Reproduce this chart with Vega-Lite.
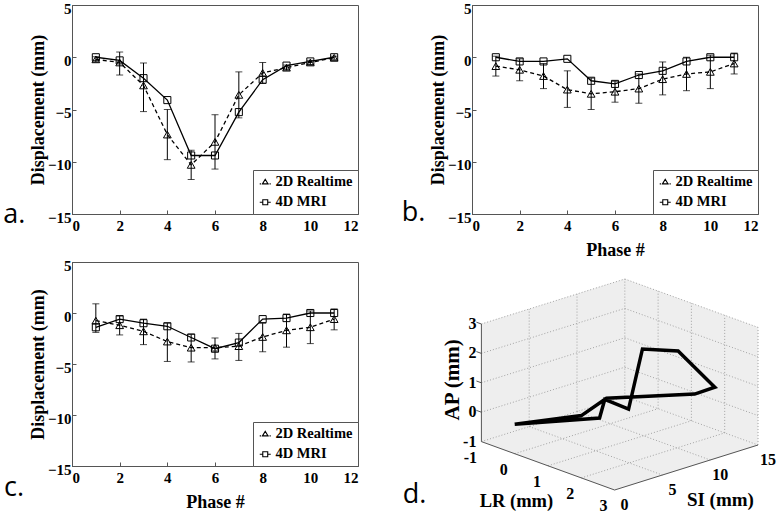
{
  "$schema": "https://vega.github.io/schema/vega-lite/v6.json",
  "autosize": "none",
  "padding": {"left": 72, "top": 5, "right": 705, "bottom": 510},
  "background": "white",
  "datasets": {
    "disp": [
      {"p":"a","phase":1,"s":"2D Realtime","v":-0.2,"lo":-0.45,"hi":0.05},
      {"p":"a","phase":2,"s":"2D Realtime","v":-0.5,"lo":-1.7,"hi":0.5},
      {"p":"a","phase":3,"s":"2D Realtime","v":-2.7,"lo":-5.2,"hi":-0.55},
      {"p":"a","phase":4,"s":"2D Realtime","v":-7.4,"lo":-9.8,"hi":-5.0},
      {"p":"a","phase":5,"s":"2D Realtime","v":-10.3,"lo":-11.7,"hi":-8.9},
      {"p":"a","phase":6,"s":"2D Realtime","v":-8.1,"lo":-10.7,"hi":-5.5},
      {"p":"a","phase":7,"s":"2D Realtime","v":-3.6,"lo":-5.8,"hi":-1.4},
      {"p":"a","phase":8,"s":"2D Realtime","v":-1.5,"lo":-2.5,"hi":-0.5},
      {"p":"a","phase":9,"s":"2D Realtime","v":-1.0,"lo":-1.25,"hi":-0.75},
      {"p":"a","phase":10,"s":"2D Realtime","v":-0.5,"lo":-0.7,"hi":-0.3},
      {"p":"a","phase":11,"s":"2D Realtime","v":-0.05,"lo":-0.2,"hi":0.1},
      {"p":"a","phase":1,"s":"4D MRI","v":0},
      {"p":"a","phase":2,"s":"4D MRI","v":-0.3},
      {"p":"a","phase":3,"s":"4D MRI","v":-2.0},
      {"p":"a","phase":4,"s":"4D MRI","v":-4.1},
      {"p":"a","phase":5,"s":"4D MRI","v":-9.4},
      {"p":"a","phase":6,"s":"4D MRI","v":-9.4},
      {"p":"a","phase":7,"s":"4D MRI","v":-5.25},
      {"p":"a","phase":8,"s":"4D MRI","v":-2.15},
      {"p":"a","phase":9,"s":"4D MRI","v":-0.8},
      {"p":"a","phase":10,"s":"4D MRI","v":-0.4},
      {"p":"a","phase":11,"s":"4D MRI","v":0},
      {"p":"b","phase":1,"s":"2D Realtime","v":-0.85,"lo":-1.8,"hi":0.1},
      {"p":"b","phase":2,"s":"2D Realtime","v":-1.2,"lo":-2.25,"hi":-0.15},
      {"p":"b","phase":3,"s":"2D Realtime","v":-1.8,"lo":-3.0,"hi":-0.6},
      {"p":"b","phase":4,"s":"2D Realtime","v":-3.1,"lo":-4.8,"hi":-1.3},
      {"p":"b","phase":5,"s":"2D Realtime","v":-3.5,"lo":-5.0,"hi":-2.0},
      {"p":"b","phase":6,"s":"2D Realtime","v":-3.3,"lo":-4.3,"hi":-2.3},
      {"p":"b","phase":7,"s":"2D Realtime","v":-3.0,"lo":-4.4,"hi":-1.6},
      {"p":"b","phase":8,"s":"2D Realtime","v":-2.1,"lo":-3.6,"hi":-0.45},
      {"p":"b","phase":9,"s":"2D Realtime","v":-1.6,"lo":-3.2,"hi":0.0},
      {"p":"b","phase":10,"s":"2D Realtime","v":-1.4,"lo":-3.0,"hi":0.2},
      {"p":"b","phase":11,"s":"2D Realtime","v":-0.6,"lo":-1.6,"hi":0.4},
      {"p":"b","phase":1,"s":"4D MRI","v":0},
      {"p":"b","phase":2,"s":"4D MRI","v":-0.4},
      {"p":"b","phase":3,"s":"4D MRI","v":-0.4},
      {"p":"b","phase":4,"s":"4D MRI","v":-0.15},
      {"p":"b","phase":5,"s":"4D MRI","v":-2.25},
      {"p":"b","phase":6,"s":"4D MRI","v":-2.55},
      {"p":"b","phase":7,"s":"4D MRI","v":-1.7},
      {"p":"b","phase":8,"s":"4D MRI","v":-1.3},
      {"p":"b","phase":9,"s":"4D MRI","v":-0.4},
      {"p":"b","phase":10,"s":"4D MRI","v":0},
      {"p":"b","phase":11,"s":"4D MRI","v":0},
      {"p":"c","phase":1,"s":"2D Realtime","v":-0.75,"lo":-1.9,"hi":0.9},
      {"p":"c","phase":2,"s":"2D Realtime","v":-1.2,"lo":-2.15,"hi":-0.3},
      {"p":"c","phase":3,"s":"2D Realtime","v":-1.8,"lo":-3.1,"hi":-0.6},
      {"p":"c","phase":4,"s":"2D Realtime","v":-2.8,"lo":-4.75,"hi":-1.0},
      {"p":"c","phase":5,"s":"2D Realtime","v":-3.4,"lo":-4.8,"hi":-2.1},
      {"p":"c","phase":6,"s":"2D Realtime","v":-3.4,"lo":-4.5,"hi":-2.45},
      {"p":"c","phase":7,"s":"2D Realtime","v":-3.25,"lo":-4.65,"hi":-2.0},
      {"p":"c","phase":8,"s":"2D Realtime","v":-2.35,"lo":-3.8,"hi":-1.0},
      {"p":"c","phase":9,"s":"2D Realtime","v":-1.7,"lo":-3.35,"hi":-0.1},
      {"p":"c","phase":10,"s":"2D Realtime","v":-1.4,"lo":-3.0,"hi":0.2},
      {"p":"c","phase":11,"s":"2D Realtime","v":-0.6,"lo":-1.65,"hi":0.4},
      {"p":"c","phase":1,"s":"4D MRI","v":-1.4},
      {"p":"c","phase":2,"s":"4D MRI","v":-0.6},
      {"p":"c","phase":3,"s":"4D MRI","v":-1.0},
      {"p":"c","phase":4,"s":"4D MRI","v":-1.3},
      {"p":"c","phase":5,"s":"4D MRI","v":-2.4},
      {"p":"c","phase":6,"s":"4D MRI","v":-3.5},
      {"p":"c","phase":7,"s":"4D MRI","v":-2.9},
      {"p":"c","phase":8,"s":"4D MRI","v":-0.6},
      {"p":"c","phase":9,"s":"4D MRI","v":-0.5},
      {"p":"c","phase":10,"s":"4D MRI","v":0},
      {"p":"c","phase":11,"s":"4D MRI","v":0}
    ],
    "walls": [
      {"w":"lr","k":0,"SI":0,"LR":-1,"AP":-1},
      {"w":"lr","k":1,"SI":0,"LR":-1,"AP":3},
      {"w":"lr","k":2,"SI":15,"LR":-1,"AP":3},
      {"w":"lr","k":3,"SI":15,"LR":-1,"AP":-1},
      {"w":"si","k":0,"SI":15,"LR":-1,"AP":-1},
      {"w":"si","k":1,"SI":15,"LR":-1,"AP":3},
      {"w":"si","k":2,"SI":15,"LR":3,"AP":3},
      {"w":"si","k":3,"SI":15,"LR":3,"AP":-1},
      {"w":"fl","k":0,"SI":0,"LR":-1,"AP":-1},
      {"w":"fl","k":1,"SI":15,"LR":-1,"AP":-1},
      {"w":"fl","k":2,"SI":15,"LR":3,"AP":-1},
      {"w":"fl","k":3,"SI":0,"LR":3,"AP":-1}
    ],
    "grid3": [
      {"SI":5,"LR":-1,"AP":-1,"SI2":5,"LR2":-1,"AP2":3},
      {"SI":10,"LR":-1,"AP":-1,"SI2":10,"LR2":-1,"AP2":3},
      {"SI":15,"LR":-1,"AP":-1,"SI2":15,"LR2":-1,"AP2":3},
      {"SI":0,"LR":-1,"AP":-1,"SI2":15,"LR2":-1,"AP2":-1},
      {"SI":0,"LR":-1,"AP":0,"SI2":15,"LR2":-1,"AP2":0},
      {"SI":0,"LR":-1,"AP":1,"SI2":15,"LR2":-1,"AP2":1},
      {"SI":0,"LR":-1,"AP":2,"SI2":15,"LR2":-1,"AP2":2},
      {"SI":0,"LR":-1,"AP":3,"SI2":15,"LR2":-1,"AP2":3},
      {"SI":15,"LR":0,"AP":-1,"SI2":15,"LR2":0,"AP2":3},
      {"SI":15,"LR":1,"AP":-1,"SI2":15,"LR2":1,"AP2":3},
      {"SI":15,"LR":2,"AP":-1,"SI2":15,"LR2":2,"AP2":3},
      {"SI":15,"LR":3,"AP":-1,"SI2":15,"LR2":3,"AP2":3},
      {"SI":15,"LR":-1,"AP":-1,"SI2":15,"LR2":3,"AP2":-1},
      {"SI":15,"LR":-1,"AP":0,"SI2":15,"LR2":3,"AP2":0},
      {"SI":15,"LR":-1,"AP":1,"SI2":15,"LR2":3,"AP2":1},
      {"SI":15,"LR":-1,"AP":2,"SI2":15,"LR2":3,"AP2":2},
      {"SI":15,"LR":-1,"AP":3,"SI2":15,"LR2":3,"AP2":3},
      {"SI":5,"LR":-1,"AP":-1,"SI2":5,"LR2":3,"AP2":-1},
      {"SI":10,"LR":-1,"AP":-1,"SI2":10,"LR2":3,"AP2":-1},
      {"SI":0,"LR":0,"AP":-1,"SI2":15,"LR2":0,"AP2":-1},
      {"SI":0,"LR":1,"AP":-1,"SI2":15,"LR2":1,"AP2":-1},
      {"SI":0,"LR":2,"AP":-1,"SI2":15,"LR2":2,"AP2":-1}
    ],
    "edges3": [
      {"SI":0,"LR":-1,"AP":-1,"SI2":0,"LR2":-1,"AP2":3},
      {"SI":0,"LR":-1,"AP":-1,"SI2":0,"LR2":3,"AP2":-1},
      {"SI":0,"LR":3,"AP":-1,"SI2":15,"LR2":3,"AP2":-1},
      {"SI":0,"LR":-1,"AP":0,"SI2":0,"LR2":-1.15,"AP2":0},
      {"SI":0,"LR":-1,"AP":1,"SI2":0,"LR2":-1.15,"AP2":1},
      {"SI":0,"LR":-1,"AP":2,"SI2":0,"LR2":-1.15,"AP2":2},
      {"SI":0,"LR":-1,"AP":3,"SI2":0,"LR2":-1.15,"AP2":3}
    ],
    "traj": [
      {"phase":1,"SI":0,"LR":0,"AP":0},
      {"phase":2,"SI":4,"LR":1.4,"AP":0.38},
      {"phase":3,"SI":5,"LR":1.27,"AP":0.86},
      {"phase":4,"SI":7,"LR":1.41,"AP":0.38},
      {"phase":5,"SI":8,"LR":1.54,"AP":2.38},
      {"phase":6,"SI":11,"LR":1.75,"AP":2.09},
      {"phase":7,"SI":14,"LR":1.99,"AP":0.65},
      {"phase":8,"SI":12,"LR":1.96,"AP":0.61},
      {"phase":9,"SI":5,"LR":1.32,"AP":0.92},
      {"phase":10,"SI":3,"LR":1.14,"AP":0.46},
      {"phase":11,"SI":0,"LR":0,"AP":0}
    ],
    "lab3": [
      {"k":"ap","t":"-1","SI":0,"LR":-1,"AP":-1},
      {"k":"ap","t":"0","SI":0,"LR":-1,"AP":0},
      {"k":"ap","t":"1","SI":0,"LR":-1,"AP":1},
      {"k":"ap","t":"2","SI":0,"LR":-1,"AP":2},
      {"k":"ap","t":"3","SI":0,"LR":-1,"AP":3},
      {"k":"lr","t":"-1","SI":0,"LR":-1,"AP":-1},
      {"k":"lr","t":"0","SI":0,"LR":0,"AP":-1},
      {"k":"lr","t":"1","SI":0,"LR":1,"AP":-1},
      {"k":"lr","t":"2","SI":0,"LR":2,"AP":-1},
      {"k":"lr","t":"3","SI":0,"LR":3,"AP":-1},
      {"k":"si","t":"0","SI":0,"LR":3,"AP":-1},
      {"k":"si","t":"5","SI":5,"LR":3,"AP":-1},
      {"k":"si","t":"10","SI":10,"LR":3,"AP":-1},
      {"k":"si","t":"15","SI":15,"LR":3,"AP":-1}
    ]
  },
  "columns": 2,
  "spacing": {"row": 48, "column": 114},
  "bounds": "flush",
  "align": "each",
  "resolve": {
    "scale": {"shape": "independent", "x": "independent", "y": "independent"},
    "legend": {"shape": "independent"}
  },
  "concat": [
    {
      "width": 286, "height": 209,
      "layer": [
        {"data": {"name": "disp"},
         "transform": [{"filter": "datum.p === 'a' && datum.s === '2D Realtime'"}],
         "mark": {"type": "errorbar", "ticks": true, "size": 7, "thickness": 1, "color": "black"},
         "encoding": {
           "x": {"field": "phase", "type": "quantitative", "scale": {"domain": [0, 12], "nice": false, "zero": false}},
           "y": {"field": "lo", "type": "quantitative", "scale": {"domain": [-15, 5], "nice": false}, "title": "Displacement (mm)"},
           "y2": {"field": "hi"}}},
        {"data": {"name": "disp"},
         "transform": [{"filter": "datum.p === 'a' && datum.s === '2D Realtime'"}],
         "mark": {"type": "line", "color": "black", "strokeWidth": 1.3, "strokeDash": [4, 3]},
         "encoding": {
           "x": {"field": "phase", "type": "quantitative", "scale": {"domain": [0, 12], "nice": false, "zero": false}, "axis": {"values": [0, 2, 4, 6, 8, 10, 12], "title": null}},
           "y": {"field": "v", "type": "quantitative", "scale": {"domain": [-15, 5], "nice": false}, "axis": {"values": [-15, -10, -5, 0, 5], "title": "Displacement (mm)"}}}},
        {"data": {"name": "disp"},
         "transform": [{"filter": "datum.p === 'a' && datum.s === '4D MRI'"}],
         "mark": {"type": "line", "color": "black", "strokeWidth": 1.3},
         "encoding": {
           "x": {"field": "phase", "type": "quantitative", "scale": {"domain": [0, 12], "nice": false, "zero": false}},
           "y": {"field": "v", "type": "quantitative", "scale": {"domain": [-15, 5], "nice": false}}}},
        {"data": {"name": "disp"},
         "transform": [{"filter": "datum.p === 'a' && datum.s === '2D Realtime'"}],
         "mark": {"type": "point", "shape": "triangle-up", "filled": false, "color": "black", "size": 60, "strokeWidth": 1, "opacity": 1},
         "encoding": {
           "x": {"field": "phase", "type": "quantitative", "scale": {"domain": [0, 12], "nice": false, "zero": false}},
           "y": {"field": "v", "type": "quantitative", "scale": {"domain": [-15, 5], "nice": false}}}},
        {"data": {"name": "disp"},
         "transform": [{"filter": "datum.p === 'a' && datum.s === '4D MRI'"}],
         "mark": {"type": "point", "shape": "square", "filled": false, "color": "black", "size": 50, "strokeWidth": 1, "opacity": 1},
         "encoding": {
           "x": {"field": "phase", "type": "quantitative", "scale": {"domain": [0, 12], "nice": false, "zero": false}},
           "y": {"field": "v", "type": "quantitative", "scale": {"domain": [-15, 5], "nice": false}}}},
        {"data": {"name": "disp"},
         "transform": [{"filter": "datum.p === 'a'"}],
         "mark": {"type": "point", "filled": false, "color": "black", "strokeWidth": 1.1, "opacity": 0},
         "encoding": {
           "x": {"field": "phase", "type": "quantitative", "scale": {"domain": [0, 12], "nice": false, "zero": false}},
           "y": {"field": "v", "type": "quantitative", "scale": {"domain": [-15, 5], "nice": false}},
           "shape": {"field": "s", "type": "nominal",
             "scale": {"domain": ["2D Realtime", "4D MRI"], "range": ["M-1,0.3L-0.78,0.3M-0.62,0.3L-0.48,0.3M0.48,0.3L0.62,0.3M0.78,0.3L1,0.3M-0.5,0.3L0,-0.55L0.5,0.3Z", "M-1,0L-0.45,0M0.45,0L1,0M-0.45,-0.45L0.45,-0.45L0.45,0.45L-0.45,0.45Z"]},
             "legend": {"title": null, "orient": "bottom-right", "offset": 0}}}},
        {"data": {"values": [{"t": "a."}]},
         "mark": {"type": "text", "font": "Open Sans", "fontSize": 27, "align": "left", "baseline": "alphabetic", "color": "black"},
         "encoding": {"x": {"datum": -2.88, "type": "quantitative"}, "y": {"datum": -15.86, "type": "quantitative"}, "text": {"field": "t"}}}
      ]
    },
    {
      "width": 286, "height": 209,
      "layer": [
        {"data": {"name": "disp"},
         "transform": [{"filter": "datum.p === 'b' && datum.s === '2D Realtime'"}],
         "mark": {"type": "errorbar", "ticks": true, "size": 7, "thickness": 1, "color": "black"},
         "encoding": {
           "x": {"field": "phase", "type": "quantitative", "scale": {"domain": [0, 12], "nice": false, "zero": false}},
           "y": {"field": "lo", "type": "quantitative", "scale": {"domain": [-15, 5], "nice": false}, "title": "Displacement (mm)"},
           "y2": {"field": "hi"}}},
        {"data": {"name": "disp"},
         "transform": [{"filter": "datum.p === 'b' && datum.s === '2D Realtime'"}],
         "mark": {"type": "line", "color": "black", "strokeWidth": 1.3, "strokeDash": [4, 3]},
         "encoding": {
           "x": {"field": "phase", "type": "quantitative", "scale": {"domain": [0, 12], "nice": false, "zero": false}, "axis": {"values": [0, 2, 4, 6, 8, 10, 12], "title": "Phase #"}},
           "y": {"field": "v", "type": "quantitative", "scale": {"domain": [-15, 5], "nice": false}, "axis": {"values": [-15, -10, -5, 0, 5], "title": "Displacement (mm)"}}}},
        {"data": {"name": "disp"},
         "transform": [{"filter": "datum.p === 'b' && datum.s === '4D MRI'"}],
         "mark": {"type": "line", "color": "black", "strokeWidth": 1.3},
         "encoding": {
           "x": {"field": "phase", "type": "quantitative", "scale": {"domain": [0, 12], "nice": false, "zero": false}},
           "y": {"field": "v", "type": "quantitative", "scale": {"domain": [-15, 5], "nice": false}}}},
        {"data": {"name": "disp"},
         "transform": [{"filter": "datum.p === 'b' && datum.s === '2D Realtime'"}],
         "mark": {"type": "point", "shape": "triangle-up", "filled": false, "color": "black", "size": 60, "strokeWidth": 1, "opacity": 1},
         "encoding": {
           "x": {"field": "phase", "type": "quantitative", "scale": {"domain": [0, 12], "nice": false, "zero": false}},
           "y": {"field": "v", "type": "quantitative", "scale": {"domain": [-15, 5], "nice": false}}}},
        {"data": {"name": "disp"},
         "transform": [{"filter": "datum.p === 'b' && datum.s === '4D MRI'"}],
         "mark": {"type": "point", "shape": "square", "filled": false, "color": "black", "size": 50, "strokeWidth": 1, "opacity": 1},
         "encoding": {
           "x": {"field": "phase", "type": "quantitative", "scale": {"domain": [0, 12], "nice": false, "zero": false}},
           "y": {"field": "v", "type": "quantitative", "scale": {"domain": [-15, 5], "nice": false}}}},
        {"data": {"name": "disp"},
         "transform": [{"filter": "datum.p === 'b'"}],
         "mark": {"type": "point", "filled": false, "color": "black", "strokeWidth": 1.1, "opacity": 0},
         "encoding": {
           "x": {"field": "phase", "type": "quantitative", "scale": {"domain": [0, 12], "nice": false, "zero": false}},
           "y": {"field": "v", "type": "quantitative", "scale": {"domain": [-15, 5], "nice": false}},
           "shape": {"field": "s", "type": "nominal",
             "scale": {"domain": ["2D Realtime", "4D MRI"], "range": ["M-1,0.3L-0.78,0.3M-0.62,0.3L-0.48,0.3M0.48,0.3L0.62,0.3M0.78,0.3L1,0.3M-0.5,0.3L0,-0.55L0.5,0.3Z", "M-1,0L-0.45,0M0.45,0L1,0M-0.45,-0.45L0.45,-0.45L0.45,0.45L-0.45,0.45Z"]},
             "legend": {"title": null, "orient": "bottom-right", "offset": 0}}}},
        {"data": {"values": [{"t": "b."}]},
         "mark": {"type": "text", "font": "Open Sans", "fontSize": 27, "align": "left", "baseline": "alphabetic", "color": "black"},
         "encoding": {"x": {"datum": -2.95, "type": "quantitative"}, "y": {"datum": -15.67, "type": "quantitative"}, "text": {"field": "t"}}}
      ]
    },
    {
      "width": 286, "height": 204,
      "layer": [
        {"data": {"name": "disp"},
         "transform": [{"filter": "datum.p === 'c' && datum.s === '2D Realtime'"}],
         "mark": {"type": "errorbar", "ticks": true, "size": 7, "thickness": 1, "color": "black"},
         "encoding": {
           "x": {"field": "phase", "type": "quantitative", "scale": {"domain": [0, 12], "nice": false, "zero": false}},
           "y": {"field": "lo", "type": "quantitative", "scale": {"domain": [-15, 5], "nice": false}, "title": "Displacement (mm)"},
           "y2": {"field": "hi"}}},
        {"data": {"name": "disp"},
         "transform": [{"filter": "datum.p === 'c' && datum.s === '2D Realtime'"}],
         "mark": {"type": "line", "color": "black", "strokeWidth": 1.3, "strokeDash": [4, 3]},
         "encoding": {
           "x": {"field": "phase", "type": "quantitative", "scale": {"domain": [0, 12], "nice": false, "zero": false}, "axis": {"values": [0, 2, 4, 6, 8, 10, 12], "title": "Phase #"}},
           "y": {"field": "v", "type": "quantitative", "scale": {"domain": [-15, 5], "nice": false}, "axis": {"values": [-15, -10, -5, 0, 5], "title": "Displacement (mm)"}}}},
        {"data": {"name": "disp"},
         "transform": [{"filter": "datum.p === 'c' && datum.s === '4D MRI'"}],
         "mark": {"type": "line", "color": "black", "strokeWidth": 1.3},
         "encoding": {
           "x": {"field": "phase", "type": "quantitative", "scale": {"domain": [0, 12], "nice": false, "zero": false}},
           "y": {"field": "v", "type": "quantitative", "scale": {"domain": [-15, 5], "nice": false}}}},
        {"data": {"name": "disp"},
         "transform": [{"filter": "datum.p === 'c' && datum.s === '2D Realtime'"}],
         "mark": {"type": "point", "shape": "triangle-up", "filled": false, "color": "black", "size": 60, "strokeWidth": 1, "opacity": 1},
         "encoding": {
           "x": {"field": "phase", "type": "quantitative", "scale": {"domain": [0, 12], "nice": false, "zero": false}},
           "y": {"field": "v", "type": "quantitative", "scale": {"domain": [-15, 5], "nice": false}}}},
        {"data": {"name": "disp"},
         "transform": [{"filter": "datum.p === 'c' && datum.s === '4D MRI'"}],
         "mark": {"type": "point", "shape": "square", "filled": false, "color": "black", "size": 50, "strokeWidth": 1, "opacity": 1},
         "encoding": {
           "x": {"field": "phase", "type": "quantitative", "scale": {"domain": [0, 12], "nice": false, "zero": false}},
           "y": {"field": "v", "type": "quantitative", "scale": {"domain": [-15, 5], "nice": false}}}},
        {"data": {"name": "disp"},
         "transform": [{"filter": "datum.p === 'c'"}],
         "mark": {"type": "point", "filled": false, "color": "black", "strokeWidth": 1.1, "opacity": 0},
         "encoding": {
           "x": {"field": "phase", "type": "quantitative", "scale": {"domain": [0, 12], "nice": false, "zero": false}},
           "y": {"field": "v", "type": "quantitative", "scale": {"domain": [-15, 5], "nice": false}},
           "shape": {"field": "s", "type": "nominal",
             "scale": {"domain": ["2D Realtime", "4D MRI"], "range": ["M-1,0.3L-0.78,0.3M-0.62,0.3L-0.48,0.3M0.48,0.3L0.62,0.3M0.78,0.3L1,0.3M-0.5,0.3L0,-0.55L0.5,0.3Z", "M-1,0L-0.45,0M0.45,0L1,0M-0.45,-0.45L0.45,-0.45L0.45,0.45L-0.45,0.45Z"]},
             "legend": {"title": null, "orient": "bottom-right", "offset": 0}}}},
        {"data": {"values": [{"t": "c."}]},
         "mark": {"type": "text", "font": "Open Sans", "fontSize": 27, "align": "left", "baseline": "alphabetic", "color": "black"},
         "encoding": {"x": {"datum": -2.85, "type": "quantitative"}, "y": {"datum": -17.94, "type": "quantitative"}, "text": {"field": "t"}}}
      ]
    },
    {
      "width": 286, "height": 228,
      "view": {"stroke": null},
      "layer": [
        {"data": {"name": "walls"},
         "transform": [
           {"calculate": "9.56*datum.SI + 33.3*(datum.LR+1)", "as": "px"},
           {"calculate": "3.0*datum.SI - 12.1*(datum.LR+1) + 29.4*(datum.AP+1)", "as": "pz"}
         ],
         "mark": {"type": "line", "fill": "#eeeeee", "color": "#eeeeee", "strokeWidth": 0.5, "interpolate": "linear-closed"},
         "encoding": {
           "x": {"field": "px", "type": "quantitative", "scale": {"domain": [-9.4, 276.6], "nice": false, "zero": false}, "axis": null},
           "y": {"field": "pz", "type": "quantitative", "scale": {"domain": [-48.4, 179.6], "nice": false, "zero": false}, "axis": null},
           "detail": {"field": "w"}, "order": {"field": "k", "type": "quantitative"}}},
        {"data": {"name": "grid3"},
         "transform": [
           {"calculate": "9.56*datum.SI + 33.3*(datum.LR+1)", "as": "px"},
           {"calculate": "3.0*datum.SI - 12.1*(datum.LR+1) + 29.4*(datum.AP+1)", "as": "pz"},
           {"calculate": "9.56*datum.SI2 + 33.3*(datum.LR2+1)", "as": "px2"},
           {"calculate": "3.0*datum.SI2 - 12.1*(datum.LR2+1) + 29.4*(datum.AP2+1)", "as": "pz2"}
         ],
         "mark": {"type": "rule", "color": "#9a9a9a", "strokeDash": [1, 2], "strokeWidth": 0.9},
         "encoding": {
           "x": {"field": "px", "type": "quantitative", "scale": {"domain": [-9.4, 276.6], "nice": false, "zero": false}, "axis": null},
           "y": {"field": "pz", "type": "quantitative", "scale": {"domain": [-48.4, 179.6], "nice": false, "zero": false}, "axis": null},
           "x2": {"field": "px2"}, "y2": {"field": "pz2"}}},
        {"data": {"name": "edges3"},
         "transform": [
           {"calculate": "9.56*datum.SI + 33.3*(datum.LR+1)", "as": "px"},
           {"calculate": "3.0*datum.SI - 12.1*(datum.LR+1) + 29.4*(datum.AP+1)", "as": "pz"},
           {"calculate": "9.56*datum.SI2 + 33.3*(datum.LR2+1)", "as": "px2"},
           {"calculate": "3.0*datum.SI2 - 12.1*(datum.LR2+1) + 29.4*(datum.AP2+1)", "as": "pz2"}
         ],
         "mark": {"type": "rule", "color": "#555555", "strokeWidth": 1},
         "encoding": {
           "x": {"field": "px", "type": "quantitative", "scale": {"domain": [-9.4, 276.6], "nice": false, "zero": false}, "axis": null},
           "y": {"field": "pz", "type": "quantitative", "scale": {"domain": [-48.4, 179.6], "nice": false, "zero": false}, "axis": null},
           "x2": {"field": "px2"}, "y2": {"field": "pz2"}}},
        {"data": {"name": "traj"},
         "transform": [
           {"calculate": "9.56*datum.SI + 33.3*(datum.LR+1)", "as": "px"},
           {"calculate": "3.0*datum.SI - 12.1*(datum.LR+1) + 29.4*(datum.AP+1)", "as": "pz"}
         ],
         "mark": {"type": "line", "color": "black", "strokeWidth": 3.5, "strokeJoin": "miter"},
         "encoding": {
           "x": {"field": "px", "type": "quantitative", "scale": {"domain": [-9.4, 276.6], "nice": false, "zero": false}, "axis": null},
           "y": {"field": "pz", "type": "quantitative", "scale": {"domain": [-48.4, 179.6], "nice": false, "zero": false}, "axis": null},
           "order": {"field": "phase", "type": "quantitative"}}},
        {"data": {"name": "lab3"},
         "transform": [
           {"filter": "datum.k === 'ap'"},
           {"calculate": "9.56*datum.SI + 33.3*(datum.LR+1)", "as": "px"},
           {"calculate": "3.0*datum.SI - 12.1*(datum.LR+1) + 29.4*(datum.AP+1)", "as": "pz"}
         ],
         "mark": {"type": "text", "font": "Liberation Serif", "fontWeight": "bold", "fontSize": 16, "align": "right", "baseline": "middle", "dx": -5, "color": "black"},
         "encoding": {
           "x": {"field": "px", "type": "quantitative", "scale": {"domain": [-9.4, 276.6], "nice": false, "zero": false}, "axis": null},
           "y": {"field": "pz", "type": "quantitative", "scale": {"domain": [-48.4, 179.6], "nice": false, "zero": false}, "axis": null},
           "text": {"field": "t"}}},
        {"data": {"name": "lab3"},
         "transform": [
           {"filter": "datum.k === 'lr'"},
           {"calculate": "9.56*datum.SI + 33.3*(datum.LR+1)", "as": "px"},
           {"calculate": "3.0*datum.SI - 12.1*(datum.LR+1) + 29.4*(datum.AP+1)", "as": "pz"}
         ],
         "mark": {"type": "text", "font": "Liberation Serif", "fontWeight": "bold", "fontSize": 16, "align": "center", "baseline": "middle", "dx": -11, "dy": 16, "color": "black"},
         "encoding": {
           "x": {"field": "px", "type": "quantitative", "scale": {"domain": [-9.4, 276.6], "nice": false, "zero": false}, "axis": null},
           "y": {"field": "pz", "type": "quantitative", "scale": {"domain": [-48.4, 179.6], "nice": false, "zero": false}, "axis": null},
           "text": {"field": "t"}}},
        {"data": {"name": "lab3"},
         "transform": [
           {"filter": "datum.k === 'si'"},
           {"calculate": "9.56*datum.SI + 33.3*(datum.LR+1)", "as": "px"},
           {"calculate": "3.0*datum.SI - 12.1*(datum.LR+1) + 29.4*(datum.AP+1)", "as": "pz"}
         ],
         "mark": {"type": "text", "font": "Liberation Serif", "fontWeight": "bold", "fontSize": 16, "align": "center", "baseline": "middle", "dx": 10, "dy": 15, "color": "black"},
         "encoding": {
           "x": {"field": "px", "type": "quantitative", "scale": {"domain": [-9.4, 276.6], "nice": false, "zero": false}, "axis": null},
           "y": {"field": "pz", "type": "quantitative", "scale": {"domain": [-48.4, 179.6], "nice": false, "zero": false}, "axis": null},
           "text": {"field": "t"}}},
        {"data": {"values": [{"t": "AP (mm)"}]},
         "mark": {"type": "text", "font": "Liberation Serif", "fontWeight": "bold", "fontSize": 21, "align": "center", "baseline": "middle", "angle": 270, "color": "black"},
         "encoding": {"x": {"datum": -28.7, "type": "quantitative", "axis": null}, "y": {"datum": 61.7, "type": "quantitative", "axis": null}, "text": {"field": "t"}}},
        {"data": {"values": [{"t": "LR (mm)"}]},
         "mark": {"type": "text", "font": "Liberation Serif", "fontWeight": "bold", "fontSize": 18.5, "align": "center", "baseline": "middle", "color": "black"},
         "encoding": {"x": {"datum": 35, "type": "quantitative", "axis": null}, "y": {"datum": -59, "type": "quantitative", "axis": null}, "text": {"field": "t"}}},
        {"data": {"values": [{"t": "SI (mm)"}]},
         "mark": {"type": "text", "font": "Liberation Serif", "fontWeight": "bold", "fontSize": 19, "align": "center", "baseline": "middle", "color": "black"},
         "encoding": {"x": {"datum": 239, "type": "quantitative", "axis": null}, "y": {"datum": -58.3, "type": "quantitative", "axis": null}, "text": {"field": "t"}}},
        {"data": {"values": [{"t": "d."}]},
         "mark": {"type": "text", "font": "Open Sans", "fontSize": 27, "align": "left", "baseline": "alphabetic", "color": "black"},
         "encoding": {"x": {"datum": -78.7, "type": "quantitative", "axis": null}, "y": {"datum": -61.3, "type": "quantitative", "axis": null}, "text": {"field": "t"}}}
      ]
    }
  ],
  "config": {
    "view": {"stroke": "#555555", "strokeWidth": 1},
    "axis": {
      "labelFont": "Liberation Serif", "labelFontWeight": "bold", "labelFontSize": 15, "labelColor": "#000000",
      "titleFont": "Liberation Serif", "titleFontWeight": "bold", "titleFontSize": 18, "titleColor": "#000000",
      "grid": false, "domainColor": "#555555", "tickColor": "#555555", "tickSize": -4
    },
    "axisY": {"titlePadding": 0, "labelPadding": 5, "labelOffset": 3},
    "axisX": {"titlePadding": 8.5, "labelPadding": 8},
    "legend": {
      "labelFont": "Liberation Serif", "labelFontWeight": "bold", "labelFontSize": 14.5, "labelColor": "#000000",
      "strokeColor": "#555555", "fillColor": "#ffffff", "padding": 5, "rowPadding": 5, "labelOffset": 3,
      "symbolSize": 121, "symbolStrokeWidth": 1.1, "symbolStrokeColor": "#000000", "symbolFillColor": "transparent"
    }
  }
}
